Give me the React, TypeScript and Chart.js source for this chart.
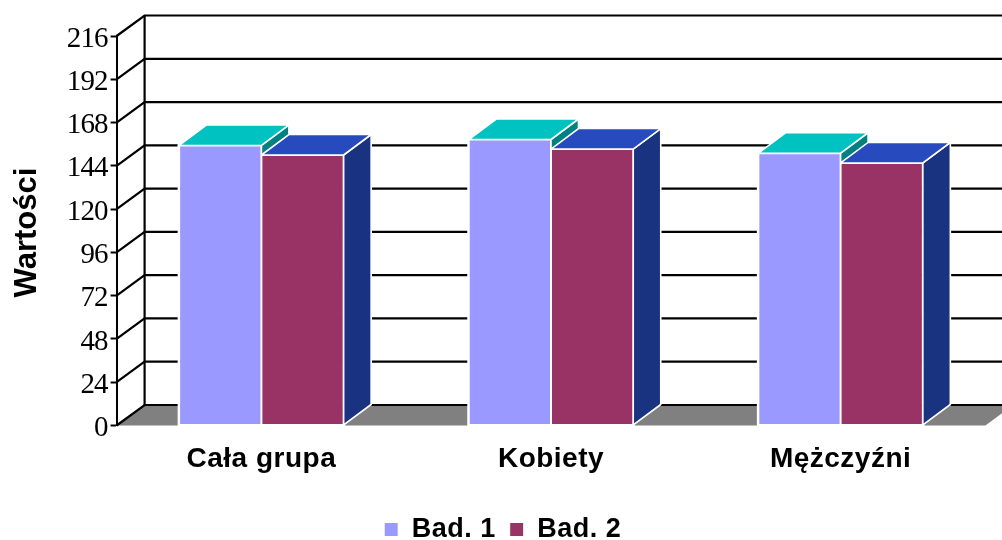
import React, { useEffect, useRef } from "react";
import { Chart, registerables } from "chart.js";

Chart.register(...registerables);

const categories = ["Cała grupa", "Kobiety", "Mężczyźni"];
const bad1 = [155.3, 158.6, 151];
const bad2 = [150, 153.3, 145.6];
const seriesNames = ["Bad. 1", "Bad. 2"];
const axisTitle = "Wartości";
const frontColors = ["#9999FF", "#993366"];
const topColors = ["#00C2C0", "#274BBE"];
const sideColors = ["#008080", "#1A3380"];

const DX = 28;
const DY = 20.5;
const SPACING = "0.5px";

const threeD = {
  id: "threeD",
  beforeLayout(chart: any) {
    chart.ctx.letterSpacing = SPACING;
  },
  afterLayout(chart: any) {
    const lg = chart.legend;
    lg.top += 13;
    lg.bottom += 13;
    lg.left += 10;
    lg.right += 10;
    const y = chart.scales.y;
    if (!y.__wrapped) {
      const orig = y.drawLabels;
      y.drawLabels = function (area: any) {
        chart.ctx.letterSpacing = "-0.9px";
        orig.call(this, area);
        chart.ctx.letterSpacing = SPACING;
      };
      y.__wrapped = true;
    }
  },
  beforeDatasetsDraw(chart: any) {
    const { ctx, chartArea } = chart;
    const y = chart.scales.y;
    const left = chartArea.left;
    const right = chartArea.right;
    const base = y.getPixelForValue(0);
    ctx.save();
    // floor
    ctx.fillStyle = "#808080";
    ctx.beginPath();
    ctx.moveTo(left, base);
    ctx.lineTo(right, base);
    ctx.lineTo(right + DX, base - DY);
    ctx.lineTo(left + DX, base - DY);
    ctx.closePath();
    ctx.fill();
    // side wall and back wall lines
    ctx.strokeStyle = "#000";
    ctx.lineWidth = 2.2;
    for (const t of y.ticks) {
      const p = y.getPixelForValue(t.value);
      ctx.beginPath();
      ctx.moveTo(left, p);
      ctx.lineTo(left + DX, p - DY);
      ctx.lineTo(right + DX, p - DY);
      ctx.stroke();
    }
    ctx.beginPath();
    ctx.moveTo(left + DX, y.getPixelForValue(y.max) - DY);
    ctx.lineTo(left + DX, base - DY);
    ctx.stroke();
    // depth faces of the bars
    ctx.lineJoin = "miter";
    [0, 1].forEach((ds) => {
      chart.getDatasetMeta(ds).data.forEach((bar: any) => {
        const x0 = bar.x - bar.width / 2;
        const x1 = bar.x + bar.width / 2;
        const top = bar.y;
        const bottom = bar.base;
        ctx.strokeStyle = "#fff";
        ctx.lineWidth = 3;
        ctx.strokeRect(x0, top, x1 - x0, bottom - top);
        ctx.lineWidth = 1.6;
        ctx.fillStyle = sideColors[ds];
        ctx.beginPath();
        ctx.moveTo(x1, top);
        ctx.lineTo(x1 + DX - 0.5, top - DY);
        ctx.lineTo(x1 + DX - 0.5, bottom - DY);
        ctx.lineTo(x1, bottom);
        ctx.closePath();
        ctx.fill();
        ctx.stroke();
        ctx.fillStyle = topColors[ds];
        ctx.beginPath();
        ctx.moveTo(x0, top);
        ctx.lineTo(x0 + DX - 0.5, top - DY);
        ctx.lineTo(x1 + DX - 0.5, top - DY);
        ctx.lineTo(x1, top);
        ctx.closePath();
        ctx.fill();
        ctx.stroke();
      });
    });
    ctx.restore();
  },
  afterDraw(chart: any) {
    const { ctx } = chart;
    ctx.save();
    ctx.letterSpacing = "0px";
    ctx.translate(27, 232.5);
    ctx.rotate(-Math.PI / 2);
    ctx.font = 'bold 31px "Liberation Sans"';
    ctx.fillStyle = "#000";
    ctx.textAlign = "center";
    ctx.textBaseline = "middle";
    ctx.fillText(axisTitle, 0, 0);
    ctx.restore();
  },
};

export default function App() {
  const ref = useRef<HTMLCanvasElement | null>(null);
  useEffect(() => {
    if (!ref.current) return;
    const chart = new Chart(ref.current, {
      type: "bar",
      data: {
        labels: categories,
        datasets: [bad1, bad2].map((values, i) => ({
          label: seriesNames[i],
          data: values,
          backgroundColor: frontColors[i],
          borderColor: "#fff",
          borderWidth: 1,
          borderSkipped: false,
          categoryPercentage: 0.568,
          barPercentage: 1,
        })),
      },
      options: {
        responsive: false,
        animation: false,
        layout: { padding: { left: 0, right: 16.6, top: 36, bottom: 0 } },
        plugins: {
          tooltip: { enabled: false },
          legend: {
            position: "bottom",
            labels: {
              boxWidth: 14,
              boxHeight: 14,
              padding: 14,
              color: "#000",
              font: { family: '"Liberation Sans"', size: 27, weight: "bold" },
            },
          },
        },
        scales: {
          x: {
            grid: { display: false, drawTicks: false },
            border: { display: false },
            ticks: {
              padding: 17,
              color: "#000",
              maxRotation: 0,
              font: { family: '"Liberation Sans"', size: 28, weight: "bold" },
            },
            afterFit(scale: any) {
              scale.height = 540 - 425.5 - (scale.chart.legend?.height ?? 0);
            },
          },
          y: {
            min: 0,
            max: 216,
            ticks: {
              stepSize: 24,
              padding: 3,
              labelOffset: 3,
              color: "#000",
              font: { family: '"Liberation Serif"', size: 29 },
            },
            grid: {
              drawOnChartArea: false,
              drawTicks: true,
              tickLength: 6,
              tickWidth: 2,
              tickColor: "#000",
            },
            border: { color: "#000", width: 2 },
            afterFit(scale: any) {
              scale.width = 116.6;
            },
          },
        },
      } as any,
      plugins: [threeD],
    });
    return () => chart.destroy();
  }, []);
  return (
    <div style={{ position: "absolute", left: 0, top: 0, width: 1002, height: 540, overflow: "hidden", background: "#fff" }}>
      <canvas ref={ref} width={1002} height={540} style={{ display: "block" }} />
    </div>
  );
}
